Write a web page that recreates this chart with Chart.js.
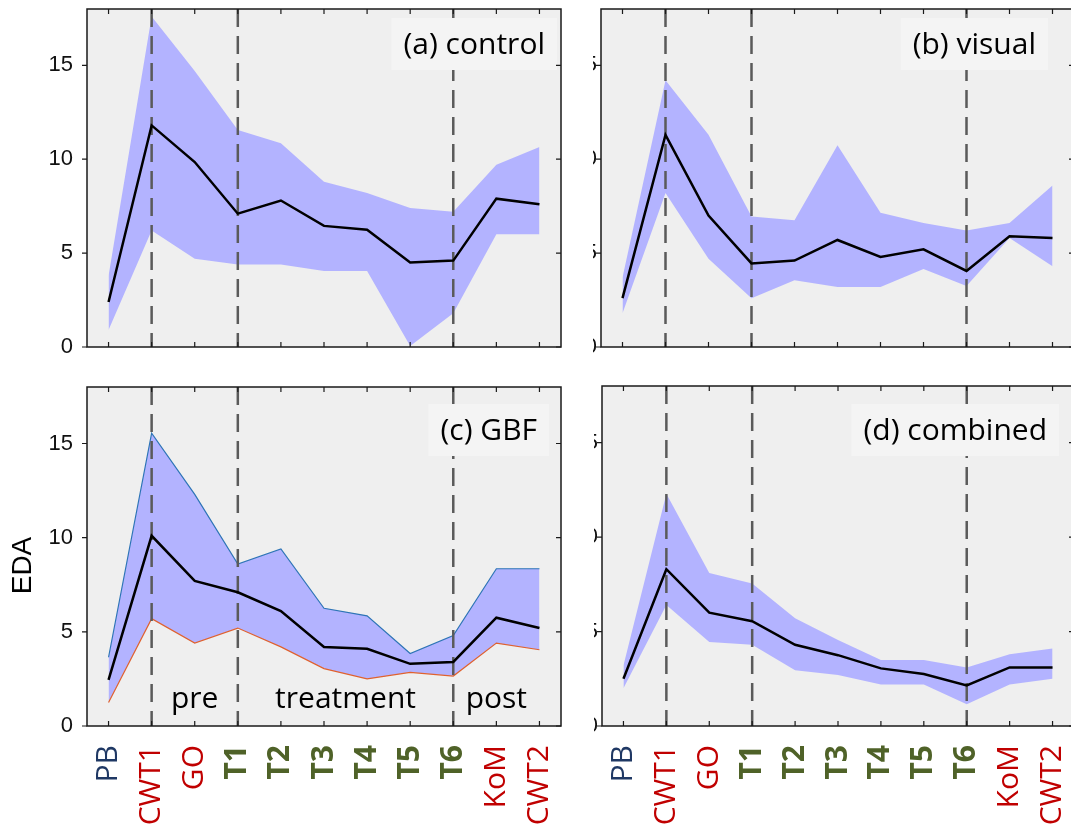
<!DOCTYPE html>
<html lang="en">
<head>
<meta charset="UTF-8">
<title>EDA by condition</title>
<script src="https://cdn.jsdelivr.net/npm/chart.js@4"></script>
<style>
  html, body { margin: 0; padding: 0; background: #fff; overflow: hidden; }
  #wrap { position: relative; width: 1071px; height: 827px; overflow: hidden; }
  canvas { position: absolute; }
</style>
</head>
<body>
<div id="wrap">
  <canvas id="panelA" width="571" height="357" style="left:0;top:0"></canvas>
  <canvas id="panelB" width="525" height="357" style="left:560px;top:0"></canvas>
  <canvas id="panelC" width="571" height="450" style="left:0;top:377px"></canvas>
  <canvas id="panelD" width="525" height="451" style="left:560px;top:376px"></canvas>
</div>
<script>
// session stages along the x axis
const stages = ['PB', 'CWT1', 'GO', 'T1', 'T2', 'T3', 'T4', 'T5', 'T6', 'KoM', 'CWT2'];
const yTicks = [0, 5, 10, 15];
const markers = ['CWT1', 'T1', 'T6'];
const phaseNames = ['pre', 'treatment', 'post'];
const phaseSpans = [['CWT1', 'T1'], ['T1', 'T6'], ['T6', 'CWT2']];

// (a) control
const controlMean = [2.4, 11.8, 9.85, 7.1, 7.8, 6.45, 6.25, 4.5, 4.6, 7.9, 7.6];
const controlHigh = [3.8, 17.6, 14.7, 11.55, 10.85, 8.8, 8.2, 7.4, 7.2, 9.7, 10.65];
const controlLow = [0.9, 6.2, 4.7, 4.4, 4.4, 4.05, 4.05, 0.05, 1.8, 6.0, 6.0];

// (b) visual
const visualMean = [2.6, 11.3, 7.0, 4.45, 4.6, 5.7, 4.8, 5.2, 4.05, 5.9, 5.8];
const visualHigh = [3.7, 14.2, 11.3, 6.95, 6.75, 10.75, 7.15, 6.6, 6.2, 6.6, 8.6];
const visualLow = [1.8, 8.2, 4.7, 2.6, 3.55, 3.2, 3.2, 4.15, 3.25, 5.8, 4.3];

// (c) GBF
const gbfMean = [2.45, 10.1, 7.7, 7.1, 6.1, 4.2, 4.1, 3.3, 3.4, 5.75, 5.2];
const gbfHigh = [3.65, 15.55, 12.3, 8.6, 9.4, 6.25, 5.85, 3.85, 4.8, 8.35, 8.35];
const gbfLow = [1.25, 5.7, 4.4, 5.2, 4.2, 3.05, 2.5, 2.85, 2.65, 4.4, 4.05];

// (d) combined
const combinedMean = [2.5, 8.3, 6.0, 5.55, 4.3, 3.75, 3.05, 2.75, 2.15, 3.1, 3.1];
const combinedHigh = [3.2, 12.3, 8.1, 7.55, 5.7, 4.55, 3.5, 3.5, 3.1, 3.8, 4.1];
const combinedLow = [2.0, 6.4, 4.45, 4.3, 2.95, 2.7, 2.2, 2.2, 1.15, 2.2, 2.5];

Chart.defaults.font.family = '"Liberation Sans", Arial, sans-serif';
Chart.defaults.color = '#111';

const BAND = '#b3b3ff';
const TEXT_FONT = '30px "Open Sans", sans-serif';

function isTreatment(name) {
    return /^T\d$/.test(name);
}

function stageColor(name) {
    if (name === 'PB') return '#1f3864';
    if (isTreatment(name)) return '#4f6228';
    return '#c00000';
}

// background, separators, label box, box frame and inward ticks
const frame = {
    id: 'frame',
    beforeDraw(chart) {
        const { ctx, chartArea: a } = chart;
        ctx.save();
        ctx.fillStyle = '#efefef';
        ctx.fillRect(a.left, a.top, a.right - a.left, a.bottom - a.top);
        ctx.restore();
    },
    beforeDatasetDraw(chart, args, opts) {
        if (args.index !== 0) return;
        const { ctx, chartArea: a, scales: { x } } = chart;
        ctx.save();
        ctx.strokeStyle = '#5a5a5a';
        ctx.lineWidth = 2.5;
        ctx.setLineDash([18, 9]);
        markers.forEach(m => {
            const px = x.getPixelForValue(stages.indexOf(m));
            ctx.beginPath();
            ctx.moveTo(px, a.top);
            ctx.lineTo(px, a.bottom);
            ctx.stroke();
        });
        ctx.restore();

        if (opts.phases) {
            ctx.save();
            ctx.font = TEXT_FONT;
            ctx.fillStyle = '#000';
            ctx.textAlign = 'center';
            ctx.textBaseline = 'alphabetic';
            phaseSpans.forEach((span, i) => {
                const x0 = x.getPixelForValue(stages.indexOf(span[0]));
                const x1 = x.getPixelForValue(stages.indexOf(span[1]));
                ctx.fillText(phaseNames[i], (x0 + x1) / 2, a.bottom - 18);
            });
            ctx.restore();
        }
    },
    afterDatasetsDraw(chart, args, opts) {
        const { ctx, chartArea: a, scales: { x, y } } = chart;

        // panel caption in a light box
        ctx.save();
        ctx.font = TEXT_FONT;
        const w = ctx.measureText(opts.label).width + 24;
        const bx = a.right - opts.boxRight - w;
        const by = a.top + opts.boxTop;
        ctx.fillStyle = '#f4f4f4';
        ctx.fillRect(bx, by, w, 52);
        ctx.fillStyle = '#000';
        ctx.textAlign = 'center';
        ctx.textBaseline = 'middle';
        ctx.fillText(opts.label, bx + w / 2, by + 27);
        ctx.restore();

        // axes box
        ctx.save();
        ctx.strokeStyle = '#1a1a1a';
        ctx.lineWidth = 1.5;
        ctx.strokeRect(a.left, a.top, a.right - a.left, a.bottom - a.top);

        const tl = 5;
        ctx.lineWidth = 1.2;
        ctx.beginPath();
        x.ticks.forEach((t, i) => {
            const px = x.getPixelForTick(i);
            ctx.moveTo(px, a.bottom); ctx.lineTo(px, a.bottom - tl);
            ctx.moveTo(px, a.top); ctx.lineTo(px, a.top + tl);
        });
        y.ticks.forEach(t => {
            const py = y.getPixelForValue(t.value);
            ctx.moveTo(a.left - tl, py); ctx.lineTo(a.left, py);
            ctx.moveTo(a.right, py); ctx.lineTo(a.right - tl, py);
        });
        ctx.stroke();
        ctx.restore();

        // tick numbers hidden under the neighbouring panel, only their edge shows
        if (opts.stubs) {
            ctx.save();
            ctx.beginPath();
            ctx.rect(a.left - 8, 0, 3, chart.height);
            ctx.clip();
            ctx.font = '22px "Liberation Sans", Arial, sans-serif';
            ctx.fillStyle = '#111';
            ctx.textAlign = 'right';
            ctx.textBaseline = 'middle';
            y.ticks.forEach(t => ctx.fillText(String(t.value), a.left - 4, y.getPixelForValue(t.value)));
            ctx.restore();
        }

        if (opts.title) {
            ctx.save();
            ctx.translate(a.left - 64, (a.top + a.bottom) / 2 + 9);
            ctx.rotate(-Math.PI / 2);
            ctx.font = '28px "Liberation Sans", Arial, sans-serif';
            ctx.fillStyle = '#000';
            ctx.textAlign = 'center';
            ctx.textBaseline = 'middle';
            ctx.fillText(opts.title, 0, 0);
            ctx.restore();
        }
    }
};

function panel(id, mean, high, low, o) {
    return new Chart(document.getElementById(id), {
        type: 'line',
        data: {
            labels: stages,
            datasets: [
                { data: mean, borderColor: '#000', borderWidth: 2.5, fill: false },
                { data: high, borderColor: o.highLine || 'transparent', borderWidth: o.highLine ? 1.2 : 0, fill: false },
                { data: low, borderColor: o.lowLine || 'transparent', borderWidth: o.lowLine ? 1.2 : 0,
                  backgroundColor: BAND, fill: '-1' }
            ]
        },
        options: {
            responsive: false,
            animation: false,
            events: [],
            elements: { point: { radius: 0 }, line: { tension: 0 } },
            layout: { padding: { top: o.top, right: o.right, left: 0, bottom: 0 } },
            plugins: {
                legend: { display: false },
                tooltip: { enabled: false },
                frame: { label: o.label, boxRight: o.boxRight, boxTop: o.boxTop,
                         phases: !!o.phases, stubs: !o.yLabels, title: o.title }
            },
            scales: {
                x: {
                    type: 'category',
                    offset: true,
                    grid: { display: false },
                    border: { display: false },
                    ticks: o.xLabels ? {
                        autoSkip: false,
                        minRotation: 90,
                        maxRotation: 90,
                        padding: 11,
                        color: c => stageColor(stages[c.index]),
                        font: c => ({
                            family: '"Open Sans", sans-serif',
                            size: 30,
                            weight: isTreatment(stages[c.index]) ? 'bold' : 'normal'
                        })
                    } : { display: false },
                    afterFit: s => { s.height = o.xHeight; s.paddingLeft = 0; s.paddingRight = 0; }
                },
                y: {
                    min: 0,
                    max: 18,
                    grid: { display: false },
                    border: { display: false },
                    ticks: { display: o.yLabels, includeBounds: false, padding: 6, font: { size: 22 } },
                    afterBuildTicks: s => { s.ticks = yTicks.map(v => ({ value: v })); },
                    afterFit: s => { s.width = o.yWidth; s.paddingTop = 0; s.paddingBottom = 0; }
                }
            }
        },
        plugins: [frame]
    });
}

panel('panelA', controlMean, controlHigh, controlLow,
      { label: '(a) control', boxRight: 4, boxTop: 9, top: 9, right: 10, yWidth: 87, xHeight: 10, yLabels: true });
panel('panelB', visualMean, visualHigh, visualLow,
      { label: '(b) visual', boxRight: 26, boxTop: 9, top: 9, right: 11, yWidth: 41, xHeight: 10, yLabels: false });
panel('panelC', gbfMean, gbfHigh, gbfLow,
      { label: '(c) GBF', boxRight: 12, boxTop: 17, top: 10, right: 10, yWidth: 87, xHeight: 101,
        yLabels: true, xLabels: true, phases: true, title: 'EDA', highLine: '#2e75b6', lowLine: '#e0622f' });
panel('panelD', combinedMean, combinedHigh, combinedLow,
      { label: '(d) combined', boxRight: 15, boxTop: 18, top: 10, right: 11, yWidth: 42, xHeight: 101,
        yLabels: false, xLabels: true });
</script>
</body>
</html>
